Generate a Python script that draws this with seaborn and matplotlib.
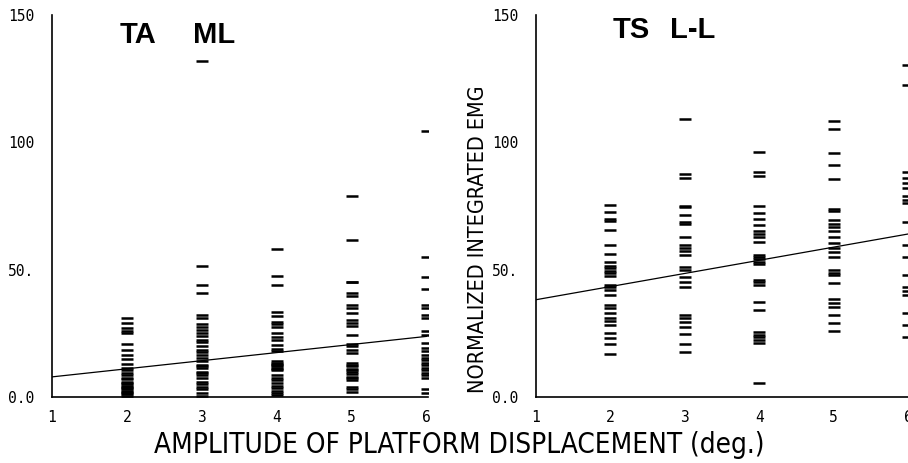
import matplotlib
matplotlib.use("Agg")
import matplotlib.pyplot as plt
import seaborn as sns
import pandas as pd

# Platform displacement amplitudes (deg.)
amplitudes = [2, 3, 4, 5, 6]
x_ticks = [1, 2, 3, 4, 5, 6]
x_tick_labels = ["1", "2", "3", "4", "5", "6"]
y_ticks = [0, 50, 100, 150]
y_tick_labels = ["0.0", "50.", "100", "150"]

# TA, medio-lateral: normalized integrated EMG per trial
ta_ml_2 = [31, 29, 27, 26, 25, 21, 18.5, 16.5, 15, 13, 11.5, 10.5, 9.5, 8.5,
           7.5, 7, 6, 5.5, 5, 4.5, 4, 3.5, 3, 2.5, 2, 1.5, 1, 0.5]
ta_ml_3 = [132, 51.5, 44, 41, 32.3, 31, 28.5, 27.4, 26.4, 25, 24, 22.5, 21.5,
           20, 18.5, 17.5, 16.5, 15.5, 14, 12.6, 12, 11.4, 10, 9.5, 8.5, 7.5,
           6, 5, 4, 3, 1.5, 0.5]
ta_ml_4 = [58, 47.5, 44, 33.5, 32, 29.5, 28.5, 27.5, 25, 23.5, 22.5, 20.5, 19,
           18, 14, 13.5, 13, 12.5, 12, 11.5, 11, 10.5, 8.5, 7.5, 6.5, 5.5, 4.5,
           3.5, 2.5, 1.5, 0.8]
ta_ml_5 = [78.8, 61.5, 45.3, 45, 41, 39.7, 36.1, 35, 33, 30.2, 29.2, 27.7,
           24.5, 21, 20, 18.5, 17.2, 13.3, 12.5, 12, 11, 10.5, 10, 9, 8, 7.5,
           6.7, 4, 3, 2.1]
ta_ml_6 = [104.6, 55, 47, 42.4, 36.3, 35, 32.3, 31, 25.8, 24.5, 21.2, 19.2,
           18, 16.6, 15.5, 14.5, 13.5, 12.5, 11.5, 10.5, 9.5, 8.5, 7.5, 3, 1.6]
ta_ml_fit_x = [1, 6]
ta_ml_fit_y = [7.9, 23.8]

# TS, lateral-lateral: normalized integrated EMG per trial
ts_ll_2 = [75.5, 72.5, 70, 69, 65.5, 59.8, 56, 53.2, 51.5, 50.5, 49.5, 48.5,
           47.5, 44, 43, 42, 40, 36.2, 35, 32.8, 31, 30, 28.3, 25, 23, 20.7, 17]
ts_ll_3 = [109.3, 87.5, 86, 75, 74.5, 71.5, 68.8, 68, 63, 59.5, 58.5, 57.5,
           55.8, 51.2, 50, 47, 45.3, 43.3, 32.2, 31, 29.6, 27.4, 24.7, 21, 17.8]
ts_ll_4 = [96.3, 88.5, 86.8, 75, 72.4, 69.8, 67.5, 65, 64, 63, 61, 55.8, 55,
           54, 53, 52.2, 46, 45, 44, 37.4, 34, 25.5, 24.5, 23.5, 22.5, 21.2, 5.4]
ts_ll_5 = [108.5, 105.2, 96, 91, 85.5, 74, 73, 69.5, 68, 66.8, 65, 63, 60.3,
           58.5, 57, 55, 49.8, 48.8, 48, 44.6, 38.4, 36.9, 35.5, 32.2, 29.2, 26]
ts_ll_6 = [130.3, 122.5, 88.5, 86, 84, 82, 79, 77.5, 76, 68.8, 59.7, 55, 48,
           43, 41.5, 40, 33, 28.3, 23.7]
ts_ll_fit_x = [1, 6]
ts_ll_fit_y = [38.2, 64.0]


def to_frame(columns):
    rows = []
    for amp, vals in zip(amplitudes, columns):
        rows += [(amp, v) for v in vals]
    return pd.DataFrame(rows, columns=["amplitude", "emg"])


ta_df = to_frame([ta_ml_2, ta_ml_3, ta_ml_4, ta_ml_5, ta_ml_6])
ts_df = to_frame([ts_ll_2, ts_ll_3, ts_ll_4, ts_ll_5, ts_ll_6])

sns.set_theme(style="white")
plt.rcParams["font.family"] = ["DejaVu Sans"]
plt.rcParams["text.color"] = "black"
plt.rcParams["axes.labelcolor"] = "black"
plt.rcParams["xtick.color"] = "black"
plt.rcParams["ytick.color"] = "black"

W, H = 908, 463
fig = plt.figure(figsize=(W / 100, H / 100), dpi=100)

px_unit = 75.2
ax_l = fig.add_axes([52 / W, 66 / H, 5.0 * px_unit / W, 382 / H])
ax_r = fig.add_axes([536 / W, 66 / H, 5.1 * 74.4 / W, 382 / H])

tick_font = dict(family="DejaVu Sans Mono", size=10.5)

for ax, df, fx, fy, xmax in [(ax_l, ta_df, ta_ml_fit_x, ta_ml_fit_y, 6.02),
                             (ax_r, ts_df, ts_ll_fit_x, ts_ll_fit_y, 6.1)]:
    sns.scatterplot(data=df, x="amplitude", y="emg", marker="_", s=70,
                    linewidth=1.8, color="black", ax=ax, legend=False)
    sns.lineplot(x=fx, y=fy, color="black", linewidth=0.9, ax=ax)
    ax.set_xlim(1, xmax)
    ax.set_ylim(0, 150)
    ax.set_xticks(x_ticks)
    ax.set_xticklabels(x_tick_labels, fontdict=tick_font)
    ax.set_yticks(y_ticks)
    ax.set_yticklabels(y_tick_labels, fontdict=tick_font)
    ax.set_xlabel("")
    ax.set_ylabel("")
    for side in ["top", "right"]:
        ax.spines[side].set_visible(False)
    for side in ["left", "bottom"]:
        ax.spines[side].set_color("black")
        ax.spines[side].set_linewidth(1.2)
    ax.tick_params(axis="both", direction="inout", length=4, width=1,
                   color="black", labelcolor="black")
    ax.tick_params(axis="y", pad=11)
    ax.tick_params(axis="x", pad=7)
    ax.set_facecolor("white")

title_font = dict(family="Liberation Sans", weight="bold", size=21,
                  color="black")
fig.text(120 / W, 1 - 43 / H, "TA", va="baseline", ha="left", **title_font)
fig.text(193 / W, 1 - 43 / H, "ML", va="baseline", ha="left", **title_font)
fig.text(613 / W, 1 - 38 / H, "TS", va="baseline", ha="left", **title_font)
fig.text(670 / W, 1 - 38 / H, "L-L", va="baseline", ha="left", **title_font)

fig.text(478 / W, 1 - 239 / H, "NORMALIZED INTEGRATED EMG", rotation=90,
         ha="center", va="center", family="DejaVu Sans", stretch="condensed",
         size=15.5, color="black")
fig.text(459 / W, 1 - 445 / H, "AMPLITUDE OF PLATFORM DISPLACEMENT (deg.)",
         ha="center", va="center", family="DejaVu Sans", stretch="condensed",
         size=20, color="black")

fig.savefig("out.png", dpi=100, facecolor="white")
